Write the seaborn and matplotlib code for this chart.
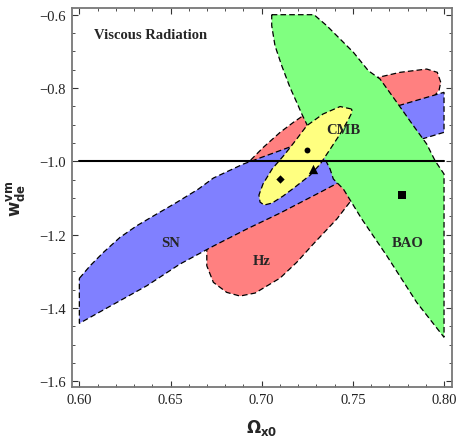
import matplotlib
matplotlib.use("Agg")
import matplotlib.pyplot as plt
import seaborn as sns
import pandas as pd
from matplotlib.ticker import MultipleLocator, FuncFormatter

# ---- confidence region outlines (Omega_x0, w_de^vm) ----
hz_x = [0.7982, 0.7963, 0.7905, 0.7759, 0.7640, 0.7485, 0.7320, 0.7174, 0.7101, 0.7009,
        0.6918, 0.6837, 0.6772, 0.6717, 0.6699, 0.6699, 0.6735, 0.6808, 0.6881, 0.6964,
        0.7101, 0.7192, 0.7283, 0.7412, 0.7539, 0.7676, 0.7813, 0.7934, 0.7973]
hz_y = [-0.7844, -0.7572, -0.7482, -0.7572, -0.7708, -0.8027, -0.8436, -0.8936, -0.9209, -0.9618,
        -1.0074, -1.0538, -1.1029, -1.1574, -1.2120, -1.2849, -1.3301, -1.3574, -1.3675, -1.3593,
        -1.3184, -1.2756, -1.2256, -1.1574, -1.0756, -0.9801, -0.8982, -0.8300, -0.8055]

sn_x = [0.6000, 0.6059, 0.6132, 0.6223, 0.6315, 0.6424, 0.6534, 0.6653, 0.6735, 0.6899,
        0.7174, 0.7457, 0.7749, 0.8000, 0.8000, 0.7878, 0.7594, 0.7320, 0.7101, 0.6918,
        0.6735, 0.6552, 0.6370, 0.6000]
sn_y = [-1.3192, -1.2849, -1.2483, -1.2074, -1.1757, -1.1438, -1.1119, -1.0756, -1.0456, -1.0074,
        -0.9574, -0.9010, -0.8483, -0.8117, -0.9209, -0.9392, -1.0128, -1.0846, -1.1411, -1.1847,
        -1.2311, -1.2802, -1.3394, -1.4420]

bao_x = [0.7055, 0.7287, 0.7357, 0.7430, 0.7503, 0.7585, 0.7649, 0.7741, 0.7832, 0.7905,
         0.7951, 0.8000, 0.8000, 0.7850, 0.7686, 0.7549, 0.7448, 0.7393, 0.7375, 0.7338,
         0.7276, 0.7220, 0.7192, 0.7155, 0.7110, 0.7073, 0.7055]
bao_y = [-0.6000, -0.6000, -0.6300, -0.6663, -0.7026, -0.7528, -0.7754, -0.8390, -0.9029, -0.9528,
         -0.9984, -1.0347, -1.4800, -1.3847, -1.2576, -1.1574, -1.0756, -1.0483, -1.0210, -0.9847,
         -0.9282, -0.8709, -0.8390, -0.7981, -0.7392, -0.6846, -0.6300]

cmb_x = [0.7493, 0.7430, 0.7336, 0.7247, 0.7192, 0.7128, 0.7057, 0.7007, 0.6985, 0.6991,
         0.7013, 0.7057, 0.7117, 0.7183, 0.7266, 0.7321, 0.7376, 0.7430, 0.7474, 0.7496]
cmb_y = [-0.8573, -0.8505, -0.8710, -0.9029, -0.9392, -0.9801, -1.0210, -1.0620, -1.0920, -1.1111,
         -1.1193, -1.1138, -1.0948, -1.0702, -1.0375, -1.0075, -0.9664, -0.9255, -0.8873, -0.8655]

# ---- best-fit points ----
pt_names = ["diamond", "circle", "triangle", "square"]
pt_x = [0.7101, 0.7247, 0.7283, 0.7768]
pt_y = [-1.0488, -0.9684, -1.0210, -1.0920]

# ---- labels ----
region_labels = ["SN", "Hz", "BAO", "CMB"]
label_x = [0.6498, 0.7000, 0.7799, 0.7448]
label_y = [-1.221, -1.271, -1.221, -0.912]
title_text = "Viscous Radiation"
w_ref = -1.0

x_ticks = [0.60, 0.65, 0.70, 0.75, 0.80]
y_ticks = [-1.6, -1.4, -1.2, -1.0, -0.8, -0.6]

sns.set_theme(style="ticks")
plt.rcParams['font.family'] = ['Liberation Serif', 'DejaVu Serif']
plt.rcParams['mathtext.fontset'] = 'dejavusans'

fig = plt.figure(figsize=(4.61, 4.39), dpi=100)
ax = fig.add_axes([0.1555, 0.1155, 0.8243, 0.864])

dash = (0, (4.5, 2.5))
regions = [(hz_x, hz_y, "#FF8080", 2), (sn_x, sn_y, "#8080FF", 3),
           (bao_x, bao_y, "#80FF80", 4), (cmb_x, cmb_y, "#FFFF80", 5)]
for xs, ys, col, z in regions:
    ax.fill(xs, ys, facecolor=col, edgecolor="black", linestyle=dash,
            linewidth=0.9, zorder=z)

line_df = pd.DataFrame({"x": [0.60, 0.80], "y": [w_ref, w_ref]})
sns.lineplot(data=line_df, x="x", y="y", color="black", linewidth=1.5, ax=ax, zorder=6)

markers = {"diamond": ("D", 18), "circle": ("o", 18), "triangle": ("^", 45), "square": ("s", 30)}
for n, xv, yv in zip(pt_names, pt_x, pt_y):
    m, s = markers[n]
    sns.scatterplot(x=[xv], y=[yv], marker=m, s=s, color="black", edgecolor="black",
                    linewidth=0, ax=ax, zorder=7)

for t, xv, yv in zip(region_labels, label_x, label_y):
    ax.text(xv, yv, t, ha="center", va="center", fontsize=10.5, fontweight="bold", zorder=8)
ax.text(0.6082, -0.6527, title_text, ha="left", va="center", fontsize=10.5, fontweight="bold")

ax.set_xlim(0.5958, 0.8042)
ax.set_ylim(-1.6164, -0.5817)
ax.set_xticks(x_ticks)
ax.set_yticks(y_ticks)
ax.xaxis.set_major_formatter(FuncFormatter(lambda v, p: f"{v:.2f}".replace("-", "\u2212")))
ax.yaxis.set_major_formatter(FuncFormatter(lambda v, p: f"{v:.1f}".replace("-", "\u2212")))
ax.xaxis.set_minor_locator(MultipleLocator(0.01))
ax.yaxis.set_minor_locator(MultipleLocator(0.05))
ax.tick_params(which="both", direction="in", top=True, right=True, color="#333333",
               labelsize=10.5, labelcolor="#222222")
ax.tick_params(which="major", length=4.5, width=0.8, pad=4)
ax.tick_params(which="minor", length=2.5, width=0.6)
for sp in ax.spines.values():
    sp.set_color("#777777")
    sp.set_linewidth(1.3)

ax.set_xlabel(r"$\mathbf{\Omega_{x0}}$", fontsize=12, labelpad=8)
ax.set_ylabel(r"$\mathbf{w_{de}^{vm}}$", fontsize=12, labelpad=9)
ax.grid(False)

fig.savefig("out.png", dpi=100)
